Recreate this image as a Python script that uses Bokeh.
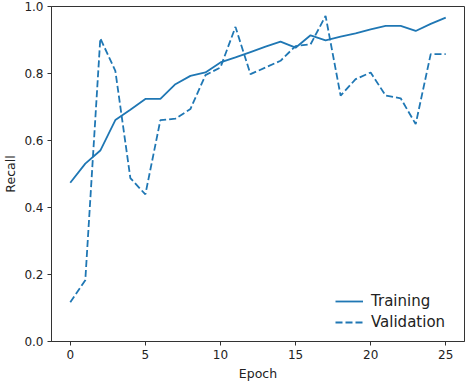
from bokeh.plotting import figure
from bokeh.models import Range1d, FixedTicker
from bokeh.embed import file_html
from bokeh.resources import INLINE

epochs = list(range(26))
training = [0.474, 0.531, 0.570, 0.661, 0.692, 0.724, 0.724, 0.768, 0.793, 0.803,
            0.833, 0.848, 0.864, 0.880, 0.895, 0.877, 0.914, 0.899, 0.910, 0.920,
            0.932, 0.942, 0.942, 0.927, 0.948, 0.967]
validation = [0.117, 0.183, 0.905, 0.808, 0.488, 0.439, 0.661, 0.665, 0.694, 0.795,
              0.818, 0.939, 0.798, 0.818, 0.838, 0.882, 0.887, 0.972, 0.734, 0.783,
              0.803, 0.734, 0.726, 0.649, 0.858, 0.858]
x_ticks = [0, 5, 10, 15, 20, 25]
y_ticks = [0.0, 0.2, 0.4, 0.6, 0.8, 1.0]
x_label = "Epoch"
y_label = "Recall"
names = ["Training", "Validation"]

FONT = "DejaVu Sans"
TXT = "#222222"
BLUE = "#1f77b4"

p = figure(frame_width=413, frame_height=335, output_backend="svg", toolbar_location=None,
           x_range=Range1d(-1.25, 26.25), y_range=Range1d(0, 1),
           min_border_left=43, min_border_right=2, min_border_top=6, min_border_bottom=43)
p.background_fill_color = "white"
p.border_fill_color = "white"
p.outline_line_color = "#333333"
p.outline_line_width = 1
p.grid.visible = False

p.line(epochs, training, line_color=BLUE, line_width=1.8, legend_label=names[0])
p.line(epochs, validation, line_color=BLUE, line_width=1.8, line_dash="7 3", legend_label=names[1])

for ax in (p.xaxis[0], p.yaxis[0]):
    ax.axis_line_color = "#333333"
    ax.major_tick_line_color = "#333333"
    ax.minor_tick_line_color = None
    ax.major_tick_in = 0
    ax.major_tick_out = 4
    ax.major_label_text_font = FONT
    ax.major_label_text_font_size = "12px"
    ax.major_label_text_color = TXT
    ax.axis_label_text_font = FONT
    ax.axis_label_text_font_size = "12.5px"
    ax.axis_label_text_font_style = "normal"
    ax.axis_label_text_color = TXT

p.xaxis.ticker = FixedTicker(ticks=x_ticks)
p.yaxis.ticker = FixedTicker(ticks=y_ticks)
p.yaxis.major_label_overrides = {t: f"{t:.1f}" for t in y_ticks}
p.xaxis.axis_label = x_label
p.yaxis.axis_label = y_label
p.xaxis.major_label_standoff = 4
p.yaxis.major_label_standoff = 4
p.xaxis.axis_label_standoff = 4
p.yaxis.axis_label_standoff = 3

lg = p.legend[0]
lg.location = (284, 9)
lg.background_fill_alpha = 0
lg.border_line_alpha = 0
lg.padding = 0
lg.margin = 0
lg.spacing = 1
lg.glyph_width = 28
lg.glyph_height = 20
lg.label_height = 20
lg.label_standoff = 8
lg.label_text_font = FONT
lg.label_text_font_size = "15px"
lg.label_text_color = TXT

open("out.html", "w").write(file_html(p, INLINE))
